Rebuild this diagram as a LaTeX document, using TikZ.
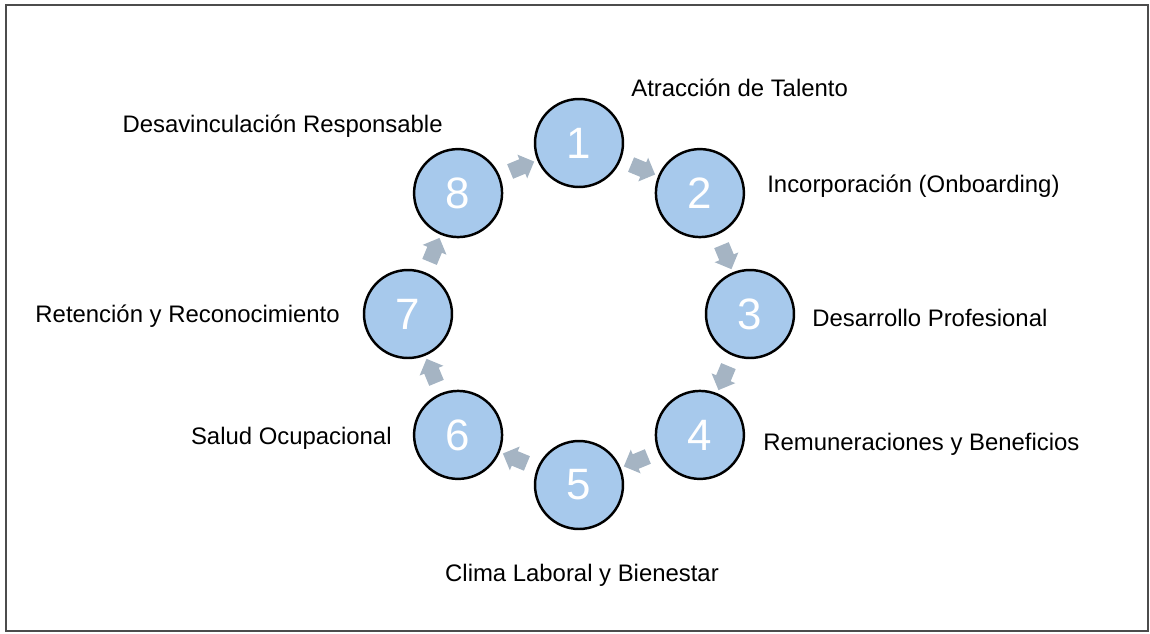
\documentclass[tikz,border=0pt]{standalone}
\usepackage{fontspec}
\setmainfont{Liberation Sans}
\usetikzlibrary{shapes.arrows}
\definecolor{etapafill}{RGB}{167,201,236}
\definecolor{flechagris}{RGB}{165,180,195}

\begin{document}
\begin{tikzpicture}[x=0.02cm,y=0.02cm,
   etapa/.style={circle,draw=black,line width=1.4pt,fill=etapafill,minimum size=1.76cm,inner sep=0pt,
                 text=white,font=\fontsize{25}{25}\selectfont},
   rotulo/.style={font=\fontsize{13.6}{16}\selectfont,inner sep=0pt},
   flecha/.style={single arrow,fill=flechagris,minimum height=0.52cm,inner xsep=0pt,inner ysep=0.15cm,
                  single arrow head extend=0.1cm,single arrow head indent=0pt}]
   \useasboundingbox (-579,-319) rectangle (571,314);
   \draw[black!70,line width=0.8pt] (-573,309) rectangle (569,-317);
   % etapas del ciclo
   \node[etapa] (c1) at (90:171)   {1};
   \node[etapa] (c2) at (45:171)   {2};
   \node[etapa] (c3) at (0:171)    {3};
   \node[etapa] (c4) at (-45:171)  {4};
   \node[etapa] (c5) at (-90:171)  {5};
   \node[etapa] (c6) at (-135:171) {6};
   \node[etapa] (c7) at (180:171)  {7};
   \node[etapa] (c8) at (135:171)  {8};
   % rotulos
   \node[rotulo,anchor=west] (l1) at (52,226)   {Atracción de Talento};
   \node[rotulo,anchor=west] (l2) at (188,128)  {Incorporación (Onboarding)};
   \node[rotulo,anchor=west] (l3) at (233,-4)   {Desarrollo Profesional};
   \node[rotulo,anchor=west] (l4) at (184,-130) {Remuneraciones y Beneficios};
   \node[rotulo]             (l5) at (3,-261)   {Clima Laboral y Bienestar};
   \node[rotulo,anchor=east] (l6) at (-187,-124) {Salud Ocupacional};
   \node[rotulo,anchor=east] (l7) at (-239,-2)  {Retención y Reconocimiento};
   \node[rotulo,anchor=east] (l8) at (-136,188) {Desavinculación Responsable};
   % flechas entre etapas
   \foreach \k in {1,...,8}
      \node[flecha,rotate={-22.5-45*(\k-1)}] (a\k) at ({67.5-45*(\k-1)}:158) {};
\end{tikzpicture}
\end{document}
